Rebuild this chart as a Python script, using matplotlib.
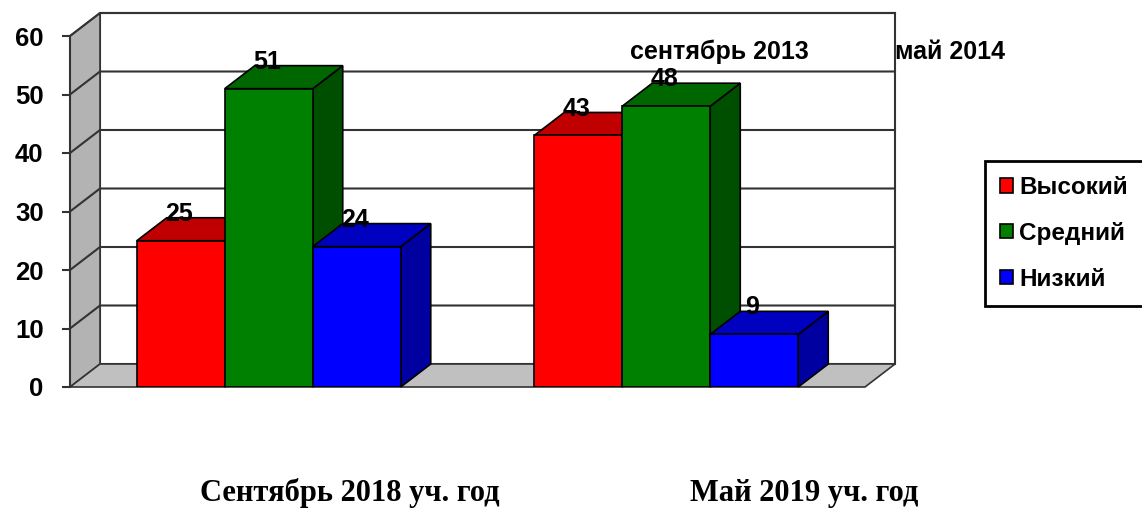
import matplotlib.pyplot as plt
from matplotlib.patches import Polygon, Rectangle, Patch

plt.rcParams['font.family'] = ['Liberation Sans', 'DejaVu Sans']

# data
periods = ['Сентябрь 2018 уч. год', 'Май 2019 уч. год']
levels = ['Высокий', 'Средний', 'Низкий']
high = [25, 43]
middle = [51, 48]
low = [24, 9]
series = [high, middle, low]

front_colors = ['#ff0000', '#008000', '#0000ff']
top_colors = ['#c00000', '#006600', '#0000c0']
side_colors = ['#800000', '#004f00', '#0000a0']

W, H = 1142, 508
fig = plt.figure(figsize=(W / 100, H / 100), dpi=100)
ax = fig.add_axes([70 / W, 121 / H, 795 / W, 351 / H])
ax.set_xlim(0, 2)
ax.set_ylim(0, 60)

# depth of the 3D effect, in data units
dx = 30 / 397.5
dy = 23 / 5.85
edge = '#333333'

# walls and floor
ax.add_patch(Rectangle((dx, dy), 2, 60, facecolor='white', edgecolor=edge,
                       lw=1.5, clip_on=False, zorder=0))
ax.add_patch(Polygon([(0, 0), (dx, dy), (dx, 60 + dy), (0, 60)], facecolor='#b3b3b3',
                     edgecolor=edge, lw=1.2, clip_on=False, zorder=1))
ax.add_patch(Polygon([(0, 0), (2, 0), (2 + dx, dy), (dx, dy)], facecolor='#c0c0c0',
                     edgecolor=edge, lw=1.2, clip_on=False, zorder=1))
for v in range(10, 70, 10):
    ax.plot([0, dx, 2 + dx], [v, v + dy, v + dy], color=edge, lw=1.5,
            clip_on=False, zorder=1)

# bars with top and side faces
w = 88 / 397.5
centers = [0.5, 1.5]
for i, vals in enumerate(series):
    xs = [c + (i - 1) * w for c in centers]
    bars = ax.bar(xs, vals, width=w, color=front_colors[i], edgecolor='black',
                  lw=1.2, zorder=4 + 2 * i)
    for b, v in zip(bars, vals):
        x0 = b.get_x()
        x1 = x0 + b.get_width()
        h = b.get_height()
        ax.add_patch(Polygon([(x1, 0), (x1 + dx, dy), (x1 + dx, h + dy), (x1, h)],
                             facecolor=side_colors[i], edgecolor='black', lw=1.2,
                             clip_on=False, zorder=3 + 2 * i))
        ax.add_patch(Polygon([(x0, h), (x1, h), (x1 + dx, h + dy), (x0 + dx, h + dy)],
                             facecolor=top_colors[i], edgecolor='black', lw=1.2,
                             clip_on=False, zorder=3 + 2 * i))
        ax.text((x0 + x1) / 2 - 0.005, h + 4.6, str(v), ha='center', va='center',
                fontsize=18, fontweight='bold', zorder=20)

# axes
for s in ['top', 'right', 'bottom']:
    ax.spines[s].set_visible(False)
ax.spines['left'].set_color(edge)
ax.spines['left'].set_linewidth(1.5)
ax.set_xticks([])
ax.set_yticks(range(0, 70, 10))
ax.tick_params(axis='y', length=6, width=1.5, color=edge, pad=13, labelsize=18.5)
for t in ax.get_yticklabels():
    t.set_fontweight('bold')

# legend
handles = [Patch(facecolor=c, edgecolor='black', lw=1.2) for c in front_colors]
leg = fig.legend(handles, levels, loc='upper left', bbox_to_anchor=(985 / W, 1 - 161 / H),
                 prop={'size': 17.5, 'weight': 'bold'}, handlelength=0.53, handleheight=0.53,
                 handletextpad=0.25, labelspacing=0.94, borderpad=0.62, borderaxespad=0,
                 fancybox=False, edgecolor='black', framealpha=1)
leg.get_frame().set_linewidth(2)

# extra captions
fig.text(630 / W, 1 - 52 / H, 'сентябрь 2013', fontsize=18, fontweight='bold', va='center')
fig.text(895 / W, 1 - 52 / H, 'май 2014', fontsize=18, fontweight='bold', va='center')

fig.text(350 / W, 1 - 501 / H, periods[0], fontsize=22, fontweight='bold',
         family='Liberation Serif', ha='center', va='baseline')
fig.text(804 / W, 1 - 501 / H, periods[1], fontsize=22, fontweight='bold',
         family='Liberation Serif', ha='center', va='baseline')

fig.savefig('out.png', dpi=100)
